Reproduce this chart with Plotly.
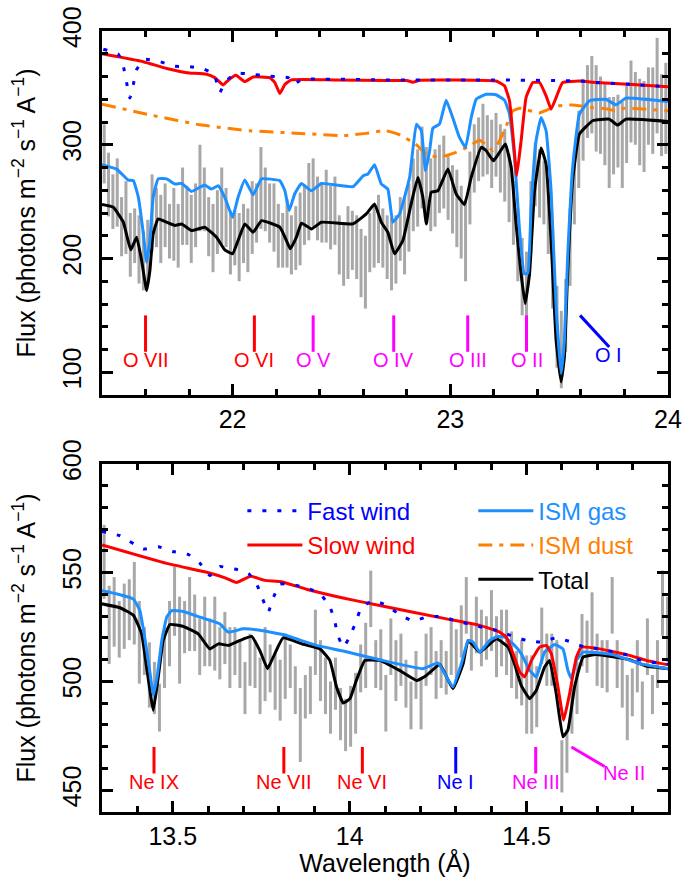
import numpy as np
import plotly.graph_objects as go

FONT = "Liberation Sans, Arial, sans-serif"
GRAY = "#a8a8a8"
C_FAST = "#0000ff"
C_SLOW = "#ff0000"
C_GAS = "#1e8fff"
C_DUST = "#ff8000"
C_TOT = "#000000"
C_MAG = "#ff00ff"

# ---------------- top panel (O K edge) ----------------
top_bin_start, top_bin_step = 21.41, 0.02
top_flux = [292, 265, 250, 258, 228, 236, 212, 220, 208, 198,
            206, 240, 236, 226, 238, 224, 230, 220, 246, 238,
            226, 238, 262, 252, 228, 218, 232, 246, 236, 214,
            218, 210, 222, 216, 236, 240, 262, 252, 240, 236,
            220, 216, 222, 212, 218, 226, 238, 250, 258, 244,
            240, 246, 236, 242, 212, 204, 214, 216, 210, 196,
            188, 214, 220, 226, 218, 210, 204, 208, 226, 220,
            236, 256, 262, 280, 268, 256, 262, 270, 276, 262,
            252, 244, 232, 216, 262, 288, 296, 304, 300, 292,
            300, 288, 282, 262, 240, 212, 184, 176, 236, 274,
            266, 258, 236, 190, 140, 120, 150, 210, 262, 296,
            322, 338, 344, 332, 326, 318, 302, 308, 312, 300,
            318, 338, 332, 320, 316, 334, 330, 352, 326, 332]
top_err = [26, 28, 24, 30, 26, 32, 28, 24, 30, 26,
           28, 34, 26, 30, 28, 24, 32, 28, 34, 26,
           30, 28, 38, 28, 26, 30, 28, 34, 26, 28,
           24, 30, 26, 28, 32, 26, 36, 28, 26, 30,
           28, 24, 30, 26, 28, 32, 26, 34, 30, 28,
           26, 32, 28, 30, 26, 28, 32, 26, 28, 30,
           32, 26, 28, 30, 26, 28, 32, 30, 28, 34,
           30, 32, 34, 36, 30, 32, 34, 30, 32, 28,
           30, 34, 32, 36, 32, 30, 28, 32, 26, 30,
           28, 30, 32, 30, 28, 32, 34, 30, 32, 28,
           30, 28, 32, 34, 36, 34, 32, 34, 32, 34,
           36, 32, 34, 38, 34, 36, 40, 34, 32, 38,
           34, 36, 32, 38, 40, 34, 38, 42, 36, 40]

top_slow_x = [21.40, 21.59, 21.697, 21.79, 21.88, 21.918, 21.956, 21.98, 22.015, 22.056,
              22.094, 22.17, 22.194, 22.217, 22.24, 22.27, 22.46, 22.70, 22.80, 22.828,
              22.86, 23.21, 23.249, 23.272, 23.29, 23.305, 23.325, 23.348, 23.379, 23.41,
              23.44, 23.463, 23.486, 23.516, 23.593, 23.669, 23.837, 24.0]
top_slow_y = [380, 373, 367, 363.4, 362, 359, 352.6, 356.7, 361, 355.5,
              359.6, 359, 354.7, 345, 353, 357, 357, 356.5, 356.5, 355,
              356.7, 356, 351.8, 338.6, 303.5, 272.8, 303, 341.5, 354.7, 354.7,
              343, 331.3, 341.5, 354.7, 356, 354.7, 353, 350.9]

top_fast_x = [21.406, 21.475, 21.498, 21.513, 21.528, 21.544, 21.559, 21.597, 21.666, 21.735,
              21.80, 21.869, 21.915, 21.941, 21.969, 22.018, 22.087, 22.155, 22.224, 22.255,
              22.28, 22.305, 22.33, 22.70, 23.20, 23.60, 23.669, 23.837, 24.0]
top_fast_y = [384, 379.5, 369, 354.7, 341, 353, 366, 375, 373, 369,
              368.7, 366.4, 362, 346, 356, 362.9, 362, 360.5, 359.6, 359,
              353, 356, 357.6, 357, 357, 356, 354.7, 353, 350.9]

top_dust_x = [21.40, 21.62, 21.85, 22.08, 22.31, 22.507, 22.614, 22.70, 22.767, 22.84,
              22.89, 22.95, 23.027, 23.08, 23.134, 23.165, 23.195, 23.226, 23.26, 23.287,
              23.32, 23.41, 23.486, 23.56, 23.654, 23.72, 23.76, 23.80, 24.0]
top_dust_y = [335.7, 326.3, 317.5, 312.3, 310, 308, 310, 312.5, 308.8, 300.6,
              291.8, 289, 293.3, 298, 304, 300, 295, 303.5, 318, 329.8,
              332, 328, 334, 335, 332.7, 331.5, 329.8, 332, 330]

top_gas_x = [21.40, 21.467, 21.52, 21.544, 21.567, 21.59, 21.605, 21.62, 21.635, 21.658,
             21.697, 21.735, 21.766, 21.811, 21.872, 21.903, 21.934, 21.964, 22.0, 22.025,
             22.056, 22.094, 22.133, 22.217, 22.24, 22.26, 22.285, 22.316, 22.362, 22.408,
             22.553, 22.6, 22.622, 22.652, 22.683, 22.713, 22.736, 22.767, 22.813, 22.844,
             22.867, 22.886, 22.905, 22.92, 22.95, 22.981, 23.011, 23.042, 23.07, 23.096,
             23.119, 23.165, 23.21, 23.249, 23.272, 23.295, 23.317, 23.34, 23.356, 23.371,
             23.394, 23.417, 23.44, 23.463, 23.486, 23.509, 23.524, 23.539, 23.562, 23.593,
             23.639, 23.715, 23.761, 23.807, 24.0]
top_gas_y = [282.5, 278.6, 269, 268.4, 253.8, 221.6, 196.8, 215.8, 253.8, 270,
             270, 265.5, 266, 259, 264.6, 261, 264, 253.8, 236.3, 253.8,
             269, 256, 270, 268.4, 259.6, 242.1, 256.7, 266, 259.6, 266,
             263.2, 272.8, 274.3, 282.5, 265.5, 261, 231.9, 239.2, 271.3, 318.1,
             312.3, 277.2, 294.7, 314.6, 318.1, 339.2, 323.9, 306.4, 297.7, 323.9,
             340, 344.4, 344, 339.2, 326.9, 289, 227.5, 186.6, 187, 245,
             303.5, 323.9, 312.3, 259.6, 157, 98.8, 128, 201, 280.1, 326.9,
             338.6, 340, 335.1, 341, 338]

top_tot_x = [21.40, 21.452, 21.498, 21.532, 21.559, 21.582, 21.605, 21.62, 21.635, 21.658,
             21.697, 21.735, 21.766, 21.811, 21.872, 21.926, 21.964, 22.0, 22.025, 22.056,
             22.094, 22.133, 22.217, 22.247, 22.265, 22.293, 22.316, 22.362, 22.408, 22.553,
             22.614, 22.652, 22.683, 22.713, 22.744, 22.782, 22.82, 22.851, 22.874, 22.89,
             22.912, 22.943, 22.989, 23.027, 23.065, 23.096, 23.142, 23.165, 23.198, 23.226,
             23.253, 23.28, 23.302, 23.325, 23.344, 23.364, 23.387, 23.417, 23.44, 23.463,
             23.486, 23.509, 23.524, 23.539, 23.562, 23.593, 23.654, 23.73, 23.768, 23.807,
             24.0]
top_tot_y = [247.4, 245, 231.9, 207.6, 218.7, 198.2, 171.9, 189.5, 221.6, 234.8,
             231.9, 229, 230.4, 224.6, 227.5, 218.7, 207.6, 204.1, 215.8, 230.4,
             223.1, 233.3, 227.5, 215.8, 208.5, 218.7, 231, 226, 231.9, 230.4,
             239.2, 248, 231.9, 223.1, 204.1, 215.8, 248, 271.3, 253.8, 230.4,
             258.2, 259.6, 278.7, 256.7, 247.4, 271.3, 297.7, 294.7, 285.9, 293.3,
             300.6, 280.1, 230.4, 186.6, 160.3, 186.6, 259.6, 297.1, 283, 215.8,
             128.1, 91.5, 113.4, 186.6, 268.4, 309.4, 321.1, 322.5, 317.3, 322.5,
             320.5]

top_ions = ["O VII", "O VI", "O V", "O IV", "O III", "O II"]
top_ion_wl = [21.60, 22.10, 22.37, 22.74, 23.08, 23.35]
top_ion_col = [C_SLOW, C_SLOW, C_MAG, C_MAG, C_MAG, C_MAG]

# ---------------- bottom panel (Ne K edge) ----------------
bot_bin_start, bot_bin_step = 13.306, 0.01422
bot_flux = [555, 526, 532, 524, 530, 533, 536, 518, 514, 503,
            497, 488, 511, 522, 537, 519, 525, 531, 527, 516,
            523, 518, 522, 513, 520, 511, 514, 508, 497, 510,
            508, 498, 508, 506, 500, 496, 507, 507, 496, 480,
            493, 496, 518, 505, 498, 488, 499, 485, 480, 484,
            490, 506, 512, 538, 508, 510, 490, 516, 505, 510,
            499, 489, 503, 490, 510, 514, 503, 508, 504, 516,
            512, 523, 535, 516, 526, 520, 520, 528, 516, 520,
            518, 510, 503, 504, 494, 494, 493, 521, 510, 510,
            508, 461, 468, 488, 497, 519, 516, 527, 510, 508,
            507, 535, 508, 499, 488, 495, 507, 489, 516, 494,
            508, 536, 524]
bot_err = [17, 18, 16, 13, 15, 14, 19, 19, 11, 15,
           12, 11, 14, 15, 16, 20, 12, 17, 13, 13,
           16, 11, 17, 12, 12, 14, 11, 11, 12, 12,
           11, 13, 17, 11, 13, 14, 15, 10, 11, 17,
           10, 11, 15, 14, 13, 12, 12, 12, 12, 14,
           14, 11, 15, 13, 11, 14, 13, 13, 14, 12,
           11, 11, 11, 12, 12, 11, 11, 11, 10, 13,
           12, 12, 13, 11, 13, 13, 10, 14, 14, 13,
           15, 13, 11, 15, 18, 18, 14, 13, 12, 12,
           11, 12, 10, 12, 12, 12, 12, 14, 12, 11,
           12, 13, 11, 11, 15, 11, 12, 11, 13, 9,
           11, 15, 15]

bot_slow_x = [13.30, 13.483, 13.596, 13.65, 13.68, 13.72, 13.76, 13.808, 13.878, 13.953,
              14.01, 14.085, 14.274, 14.368, 14.424, 14.443, 14.462, 14.481, 14.495, 14.514,
              14.537, 14.556, 14.57, 14.589, 14.605, 14.622, 14.641, 14.655, 14.707, 14.791,
              14.838, 14.9]
bot_slow_y = [562.8, 554.3, 550.2, 547.5, 545.5, 548.4, 546.5, 545.9, 542.4, 539.4,
              537.4, 534.9, 528.8, 525.8, 522.7, 520.4, 512.8, 504.4, 502.1, 509.7,
              515.8, 516.6, 512.8, 497.5, 482.2, 494.5, 511.2, 515.8, 515, 512,
              509.7, 507.7]

bot_fast_x = [13.30, 13.351, 13.417, 13.459, 13.50, 13.545, 13.577, 13.605, 13.633, 13.676,
              13.714, 13.737, 13.756, 13.77, 13.784, 13.803, 13.84, 13.878, 13.916, 13.944,
              13.958, 13.965, 13.982, 14.001, 14.019, 14.033, 14.066, 14.104, 14.141, 14.179,
              14.217, 14.259, 14.302, 14.34, 14.381, 14.424, 14.462, 14.5, 14.542, 14.584,
              14.627, 14.664, 14.707, 14.749, 14.791, 14.829, 14.867, 14.9]
bot_fast_y = [569, 567, 560.9, 562, 559.8, 558.3, 554.3, 548.7, 552.8, 551.7,
              549.7, 544.8, 537.2, 531.9, 538.4, 544.8, 544.5, 543, 540.5, 534.4,
              528, 521.9, 515.8, 520.7, 528, 534, 537.2, 535, 530.8, 527.8,
              529.6, 529.9, 527.8, 526.3, 524.7, 523.2, 520.7, 518.9, 518.1, 520.1,
              518.1, 515.8, 515, 513.5, 512, 509.4, 508.6, 507.9]

bot_gas_x = [13.30, 13.351, 13.389, 13.407, 13.422, 13.436, 13.445, 13.457, 13.469, 13.483,
             13.497, 13.53, 13.577, 13.633, 13.657, 13.699, 13.737, 13.812, 13.906, 13.982,
             14.085, 14.207, 14.25, 14.274, 14.292, 14.316, 14.335, 14.349, 14.368, 14.396,
             14.419, 14.438, 14.462, 14.485, 14.509, 14.528, 14.551, 14.58, 14.603, 14.617,
             14.627, 14.641, 14.66, 14.744, 14.819, 14.9]
bot_gas_y = [541.7, 539.9, 537.9, 532.6, 518.9, 503.6, 493.7, 503.6, 518.9, 529.6,
             532.6, 532.2, 529.6, 526.5, 522.7, 524.2, 523.8, 521.6, 516.6, 514,
             510, 505.9, 508.5, 502.1, 497.5, 508.2, 518.9, 518.1, 513.5, 518.9,
             520.7, 520.4, 517.3, 512.8, 505.1, 502.1, 513.5, 517, 515, 505.1,
             501.3, 509.7, 513.5, 512.4, 508.2, 505.9]

bot_tot_x = [13.30, 13.351, 13.389, 13.412, 13.426, 13.445, 13.459, 13.473, 13.492, 13.53,
             13.572, 13.605, 13.629, 13.657, 13.69, 13.723, 13.746, 13.768, 13.784, 13.812,
             13.869, 13.916, 13.944, 13.963, 13.982, 14.001, 14.019, 14.043, 14.085, 14.141,
             14.189, 14.217, 14.255, 14.292, 14.321, 14.335, 14.368, 14.415, 14.448, 14.466,
             14.485, 14.509, 14.528, 14.551, 14.565, 14.584, 14.603, 14.617, 14.636, 14.66,
             14.697, 14.791, 14.838, 14.9]
bot_tot_y = [535.7, 533.9, 530.4, 521.9, 506.6, 486.7, 502, 518.9, 526.2, 525.3,
             521.9, 515, 517.3, 516.6, 518.9, 520.7, 514.3, 505.9, 511.2, 520.1,
             517.1, 515, 509.7, 497.5, 490.1, 492.1, 500.5, 509.7, 509.7, 505.1,
             500.5, 502.8, 507.8, 496.7, 508.2, 518.9, 513.5, 519.6, 515.8, 508.2,
             498.2, 492.1, 496, 506.6, 509.7, 494.5, 474.6, 477.6, 497.5, 511.2,
             512.4, 510, 507.1, 505.9]

bot_ions = ["Ne IX", "Ne VII", "Ne VI", "Ne I", "Ne III"]
bot_ion_wl = [13.447, 13.814, 14.036, 14.30, 14.526]
bot_ion_col = [C_SLOW, C_SLOW, C_SLOW, C_FAST, C_MAG]

for a, b in [(top_slow_x, top_slow_y), (top_fast_x, top_fast_y), (top_dust_x, top_dust_y),
             (top_gas_x, top_gas_y), (top_tot_x, top_tot_y), (top_flux, top_err),
             (bot_slow_x, bot_slow_y), (bot_fast_x, bot_fast_y), (bot_gas_x, bot_gas_y),
             (bot_tot_x, bot_tot_y), (bot_flux, bot_err)]:
    assert len(a) == len(b), (len(a), len(b))

top_bins = np.round(top_bin_start + top_bin_step * np.arange(len(top_flux)), 4)
bot_bins = np.round(bot_bin_start + bot_bin_step * np.arange(len(bot_flux)), 4)

fig = go.Figure()


def data_trace(x, y, e, xa, ya):
    return go.Scatter(x=x, y=y, mode="markers", xaxis=xa, yaxis=ya, showlegend=False,
                      marker=dict(size=2, color=GRAY),
                      error_y=dict(type="data", array=e, visible=True, color=GRAY,
                                   thickness=3, width=0),
                      hoverinfo="skip")


def line_trace(x, y, color, xa, ya, dash="solid", name=None, legend=None, rank=None, show=False):
    return go.Scatter(x=x, y=y, mode="lines", xaxis=xa, yaxis=ya, name=name,
                      showlegend=show, legend=legend, legendrank=rank,
                      line=dict(color=color, width=3, dash=dash, shape="spline", smoothing=0.35))


DOT = "4px,11px"
DASHDOT = "14px,7px,4px,7px"

# top panel
fig.add_trace(data_trace(top_bins, top_flux, top_err, "x", "y"))
fig.add_trace(line_trace(top_dust_x, top_dust_y, C_DUST, "x", "y", dash=DASHDOT))
fig.add_trace(line_trace(top_tot_x, top_tot_y, C_TOT, "x", "y"))
fig.add_trace(line_trace(top_gas_x, top_gas_y, C_GAS, "x", "y"))
fig.add_trace(line_trace(top_slow_x, top_slow_y, C_SLOW, "x", "y"))
fig.add_trace(line_trace(top_fast_x, top_fast_y, C_FAST, "x", "y", dash=DOT))


def lab(t, c):
    return '<span style="color:%s">%s</span>' % (c, t)


# bottom panel
fig.add_trace(data_trace(bot_bins, bot_flux, bot_err, "x2", "y2"))
fig.add_trace(go.Scatter(x=[None], y=[None], mode="lines", xaxis="x2", yaxis="y2",
                         name=lab("ISM dust", C_DUST), legend="legend2", legendrank=2,
                         line=dict(color=C_DUST, width=3, dash=DASHDOT)))
fig.add_trace(line_trace(bot_tot_x, bot_tot_y, C_TOT, "x2", "y2", name=lab("Total", C_TOT),
                         legend="legend2", rank=3, show=True))
fig.add_trace(line_trace(bot_gas_x, bot_gas_y, C_GAS, "x2", "y2", name=lab("ISM gas", C_GAS),
                         legend="legend2", rank=1, show=True))
fig.add_trace(line_trace(bot_slow_x, bot_slow_y, C_SLOW, "x2", "y2", name=lab("Slow wind", C_SLOW),
                         legend="legend", rank=2, show=True))
fig.add_trace(line_trace(bot_fast_x, bot_fast_y, C_FAST, "x2", "y2", dash=DOT,
                         name=lab("Fast wind", C_FAST), legend="legend", rank=1, show=True))

shapes = []
annotations = []
# ion markers, top
for name, wl, c in zip(top_ions, top_ion_wl, top_ion_col):
    shapes.append(dict(type="line", xref="x", yref="y", x0=wl, x1=wl, y0=118, y1=150,
                       line=dict(color=c, width=3)))
    annotations.append(dict(xref="x", yref="y", x=wl, y=110.5, text=name, showarrow=False,
                            font=dict(size=20, color=c, family=FONT)))
shapes.append(dict(type="line", xref="x", yref="y", x0=23.596, x1=23.73, y0=150, y1=122.2,
                   line=dict(color=C_FAST, width=3)))
annotations.append(dict(xref="x", yref="y", x=23.726, y=114.9, text="O I", showarrow=False,
                        font=dict(size=20, color=C_FAST, family=FONT)))
# ion markers, bottom
for name, wl, c in zip(bot_ions, bot_ion_wl, bot_ion_col):
    shapes.append(dict(type="line", xref="x2", yref="y2", x0=wl, x1=wl, y0=457.7, y1=469.9,
                       line=dict(color=c, width=3)))
    annotations.append(dict(xref="x2", yref="y2", x=wl, y=453.8, text=name, showarrow=False,
                            font=dict(size=20, color=c, family=FONT)))
shapes.append(dict(type="line", xref="x2", yref="y2", x0=14.627, x1=14.721, y0=469.9, y1=460.9,
                   line=dict(color=C_MAG, width=3)))
annotations.append(dict(xref="x2", yref="y2", x=14.777, y=457.7, text="Ne II", showarrow=False,
                        font=dict(size=20, color=C_MAG, family=FONT)))

YTITLE = "Flux (photons m<sup>−2</sup> s<sup>−1</sup> A<sup>−1</sup>)"

common_ax = dict(showline=True, linecolor="black", linewidth=3, mirror="ticks",
                 ticks="inside", ticklen=11, tickwidth=2.5, tickcolor="black",
                 showgrid=False, zeroline=False, automargin=False,
                 tickfont=dict(size=25, family=FONT, color="black"))

fig.update_layout(
    width=696, height=877,
    margin=dict(l=102, r=28, t=31, b=65),
    paper_bgcolor="white", plot_bgcolor="white",
    font=dict(family=FONT, color="black"),
    xaxis=dict(domain=[0, 1], anchor="y", range=[21.4, 24], tick0=0, dtick=1,
               minor=dict(dtick=0.2, ticks="inside", ticklen=6, tickwidth=2.5, tickcolor="black"),
               **common_ax),
    yaxis=dict(domain=[0.5339, 1], anchor="x", range=[80, 400], tick0=0, dtick=100, tickangle=-90,
               minor=dict(dtick=20, ticks="inside", ticklen=6, tickwidth=2.5, tickcolor="black"),
               ticklabelstandoff=8,
               title=dict(text=YTITLE, font=dict(size=25, family=FONT), standoff=16),
               **common_ax),
    xaxis2=dict(domain=[0, 1], anchor="y2", range=[13.3, 14.9], tick0=0, dtick=0.5,
                minor=dict(dtick=0.1, ticks="inside", ticklen=6, tickwidth=2.5, tickcolor="black"),
                title=dict(text="Wavelength (Å)", font=dict(size=25, family=FONT), standoff=6),
                **common_ax),
    yaxis2=dict(domain=[0, 0.4456], anchor="x2", range=[440, 600], tick0=0, dtick=50, tickangle=-90,
                minor=dict(dtick=10, ticks="inside", ticklen=6, tickwidth=2.5, tickcolor="black"),
                ticklabelstandoff=8,
                title=dict(text=YTITLE, font=dict(size=25, family=FONT), standoff=16),
                **common_ax),
    legend=dict(x=0.248, y=0.414, xref="paper", yref="paper", xanchor="left", yanchor="top",
                bgcolor="rgba(0,0,0,0)", font=dict(size=24, family=FONT), tracegroupgap=0,
                itemwidth=55),
    legend2=dict(x=0.656, y=0.414, xref="paper", yref="paper", xanchor="left", yanchor="top",
                 bgcolor="rgba(0,0,0,0)", font=dict(size=24, family=FONT), tracegroupgap=0,
                 itemwidth=55),
    shapes=shapes, annotations=annotations,
)

fig.write_html("out.html", config={"displayModeBar": False},
               post_script="document.body.style.margin='0px';document.body.style.overflow='hidden';")
